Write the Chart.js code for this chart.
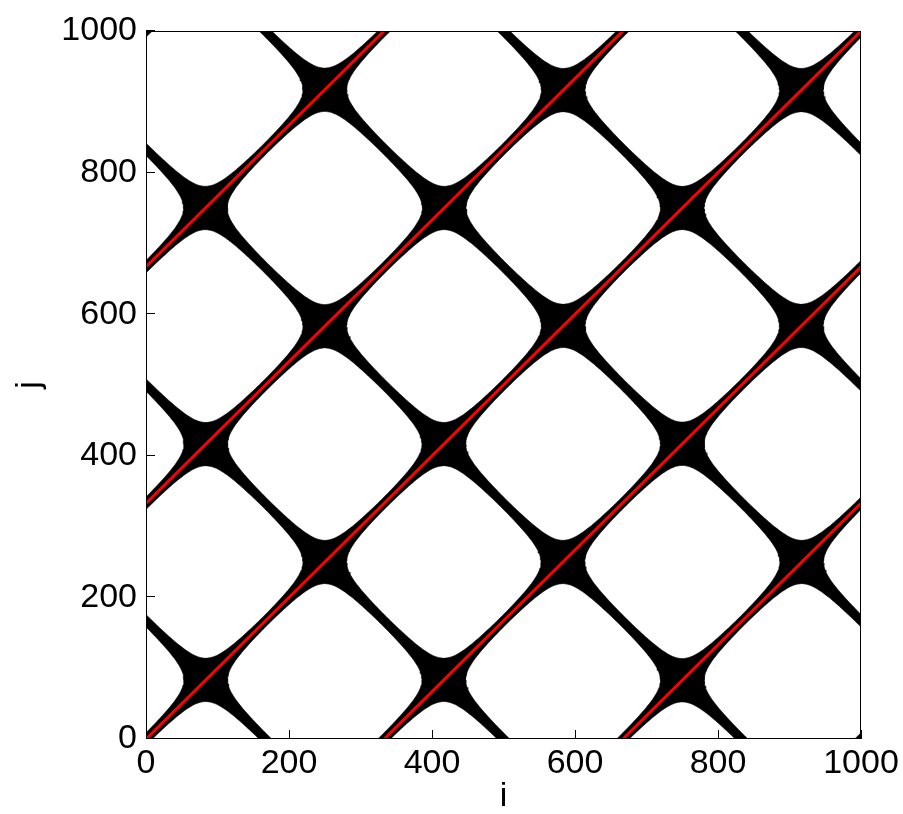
<!DOCTYPE html>
<html>
<head>
<meta charset="utf-8">
<script src="https://cdn.jsdelivr.net/npm/chart.js@4.4.0/dist/chart.umd.min.js"></script>
<style>
  html, body { margin: 0; padding: 0; background: #fff; }
</style>
</head>
<body>
<canvas id="rp" width="903" height="814"></canvas>
<script>
// tick labels on both axes
const xTicks = [0, 200, 400, 600, 800, 1000];
const yTicks = [0, 200, 400, 600, 800, 1000];

// black bands of the recurrence plot
const diagOffsets = [-1000, -667, -333, 0, 333, 667, 1000];   // j - i
const antiOffsets = [167, 500, 833, 1167, 1500, 1833];         // i + j

// red lines (j - i)
const redOffsets = [-667, -333, 0, 333, 667];

// band half-width (data units) vs distance along the band from a crossing
const profileDist = [0, 21, 25, 30, 35, 40, 50, 65, 80, 100, 118];
const profileHalf = [22, 22, 18.8, 15.7, 13.6, 12.1, 9.9, 8.1, 7.1, 6.4, 6.2];

const FONT = 'Liberation Sans, Arial, Helvetica, sans-serif';

function halfWidthAt(s) {
  const last = profileDist.length - 1;
  if (s >= profileDist[last]) return profileHalf[last];
  for (let k = 1; k <= last; k++) {
    if (s <= profileDist[k]) {
      const f = (s - profileDist[k - 1]) / (profileDist[k] - profileDist[k - 1]);
      return profileHalf[k - 1] + f * (profileHalf[k] - profileHalf[k - 1]);
    }
  }
  return profileHalf[last];
}

// outline of one band: diagonal j = t + c, or anti-diagonal j = c - t
function bandOutline(kind, c) {
  const isDiag = kind === 'diag';
  const cross = isDiag ? antiOffsets.map(a => (a - c) / 2) : diagOffsets.map(d => (c - d) / 2);
  const lo = Math.max(0, isDiag ? -c : c - 1000) - 40;
  const hi = Math.min(1000, isDiag ? 1000 - c : c) + 40;
  const n = isDiag ? [-Math.SQRT1_2, Math.SQRT1_2] : [Math.SQRT1_2, Math.SQRT1_2];
  const sideA = [], sideB = [];
  for (let t = lo; t <= hi; t += 2) {
    const s = Math.min(...cross.map(tc => Math.abs(t - tc))) * Math.SQRT2;
    const h = halfWidthAt(s);
    const px = t, py = isDiag ? t + c : c - t;
    sideA.push({ x: px + n[0] * h, y: py + n[1] * h });
    sideB.push({ x: px - n[0] * h, y: py - n[1] * h });
  }
  const pts = sideA.concat(sideB.reverse());
  pts.push(pts[0]);
  return pts;
}

const datasets = [];

redOffsets.forEach(c => {
  datasets.push({
    data: [{ x: Math.max(0, -c), y: Math.max(0, -c) + c }, { x: Math.min(1000, 1000 - c), y: Math.min(1000, 1000 - c) + c }],
    showLine: true,
    borderColor: '#ff0000',
    borderWidth: 3,
    pointRadius: 0,
    fill: false,
    order: 0
  });
});

diagOffsets.forEach(c => {
  datasets.push({
    data: bandOutline('diag', c),
    showLine: true,
    borderColor: '#000',
    borderWidth: 0.6,
    backgroundColor: '#000',
    pointRadius: 0,
    fill: 'shape',
    order: 1
  });
});

antiOffsets.forEach(c => {
  datasets.push({
    data: bandOutline('anti', c),
    showLine: true,
    borderColor: '#000',
    borderWidth: 0.6,
    backgroundColor: '#000',
    pointRadius: 0,
    fill: 'shape',
    order: 1
  });
});

const frameAndTicks = {
  id: 'frameAndTicks',
  afterDraw(chart) {
    const { ctx, chartArea: a, scales: { x, y } } = chart;
    ctx.save();
    ctx.strokeStyle = '#000';
    ctx.lineWidth = 1;
    ctx.strokeRect(a.left + 0.5, a.top + 0.5, a.right - a.left - 1, a.bottom - a.top - 1);
    ctx.beginPath();
    xTicks.forEach(v => {
      const px = Math.round(x.getPixelForValue(v)) + 0.5;
      ctx.moveTo(px, a.bottom);
      ctx.lineTo(px, a.bottom - 9);
    });
    yTicks.forEach(v => {
      const py = Math.round(y.getPixelForValue(v)) - 0.5;
      ctx.moveTo(a.left, py);
      ctx.lineTo(a.left + 9, py);
    });
    ctx.stroke();
    ctx.restore();
  }
};

new Chart(document.getElementById('rp').getContext('2d'), {
  type: 'scatter',
  data: { datasets },
  options: {
    responsive: false,
    animation: false,
    layout: { padding: { top: 31, right: 42, left: 0, bottom: 0 } },
    plugins: { legend: { display: false }, tooltip: { enabled: false } },
    scales: {
      x: {
        type: 'linear',
        min: 0,
        max: 1000,
        afterBuildTicks: s => { s.ticks = xTicks.map(v => ({ value: v })); },
        afterFit: s => { s.height = 75; },
        grid: { display: false, drawTicks: false },
        border: { display: false },
        ticks: { color: '#000', padding: 4, font: { family: FONT, size: 34 }, callback: v => String(v) },
        title: { display: true, text: 'i', color: '#000', padding: { top: 0, bottom: 0 }, font: { family: FONT, size: 34, lineHeight: 1 } }
      },
      y: {
        type: 'linear',
        min: 0,
        max: 1000,
        afterBuildTicks: s => { s.ticks = yTicks.map(v => ({ value: v })); },
        afterFit: s => { s.width = 146; },
        grid: { display: false, drawTicks: false },
        border: { display: false },
        ticks: { color: '#000', padding: 9, font: { family: FONT, size: 34 }, callback: v => String(v) },
        title: { display: true, text: 'j', color: '#000', padding: { top: 13, bottom: 0 }, font: { family: FONT, size: 34, lineHeight: 1 } }
      }
    }
  },
  plugins: [frameAndTicks]
});
</script>
</body>
</html>
